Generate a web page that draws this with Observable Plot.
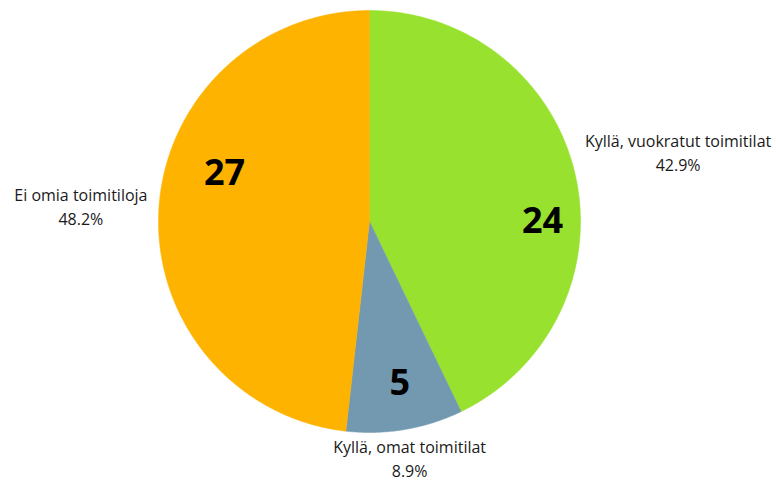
<!DOCTYPE html>
<html>
<head>
<meta charset="utf-8">
<script src="https://cdn.jsdelivr.net/npm/d3@7"></script>
<script src="https://cdn.jsdelivr.net/npm/@observablehq/plot@0.6"></script>
<style>
  html, body { margin: 0; padding: 0; background: #fff; }
  #chart { width: 776px; height: 482px; }
</style>
</head>
<body>
<div id="chart"></div>
<script>
// ---- data ----
const categories = ["Kyllä, vuokratut toimitilat", "Kyllä, omat toimitilat", "Ei omia toimitiloja"];
const counts = [24, 5, 27];
const percentLabels = ["42.9%", "8.9%", "48.2%"];
const sliceColors = ["#98e12e", "#7299b0", "#fdb300"];

// ---- layout (label placement, relative to pie radius / degrees clockwise from top) ----
const outerLabelRadius = [1.5, 1.135, 1.37];
const innerLabelAngle = [90, 169.4, 288.3];
const innerLabelRadius = [0.82, 0.78, 0.724];

const pie = d3.pie().sort(null).value(d => d.count)(
  categories.map((c, i) => ({ label: c, count: counts[i], pct: percentLabels[i], i }))
);

// polygon points for each slice (angles from d3.pie: 0 = top, clockwise)
const pts = [];
for (const s of pie) {
  const key = s.data.label;
  pts.push({ key, x: 0, y: 0 });
  const n = Math.max(2, Math.ceil((s.endAngle - s.startAngle) / (Math.PI / 360)));
  for (let k = 0; k <= n; k++) {
    const a = s.startAngle + (s.endAngle - s.startAngle) * k / n;
    pts.push({ key, x: Math.sin(a), y: Math.cos(a) });
  }
  pts.push({ key, x: 0, y: 0 });
}

const outer = pie.map((s, i) => {
  const a = (s.startAngle + s.endAngle) / 2;
  const r = outerLabelRadius[i];
  return { x: r * Math.sin(a), y: r * Math.cos(a), text: s.data.label + "\n" + s.data.pct };
});
const inner = pie.map((s, i) => {
  const a = innerLabelAngle[i] * Math.PI / 180;
  const r = innerLabelRadius[i];
  return { x: r * Math.sin(a), y: r * Math.cos(a), text: String(s.data.count) };
});

const chart = Plot.plot({
  width: 776,
  height: 482,
  marginLeft: 158,
  marginRight: 196,
  marginTop: 10,
  marginBottom: 50,
  x: { domain: [-1, 1], axis: null },
  y: { domain: [-1, 1], axis: null },
  color: { domain: categories, range: sliceColors },
  style: { fontFamily: "'Open Sans', sans-serif", background: "#fff", overflow: "visible" },
  marks: [
    Plot.line(pts, { x: "x", y: "y", z: "key", fill: "key", stroke: "key", strokeWidth: 0.5, curve: "linear" }),
    Plot.text(inner, { x: "x", y: "y", text: "text", fontSize: 36, fontWeight: "bold", fill: "#000" }),
    Plot.text(outer, { x: "x", y: "y", text: "text", fontSize: 16, lineHeight: 1.5, fill: "#1a1a1a" })
  ]
});
document.getElementById("chart").appendChild(chart);
</script>
</body>
</html>
